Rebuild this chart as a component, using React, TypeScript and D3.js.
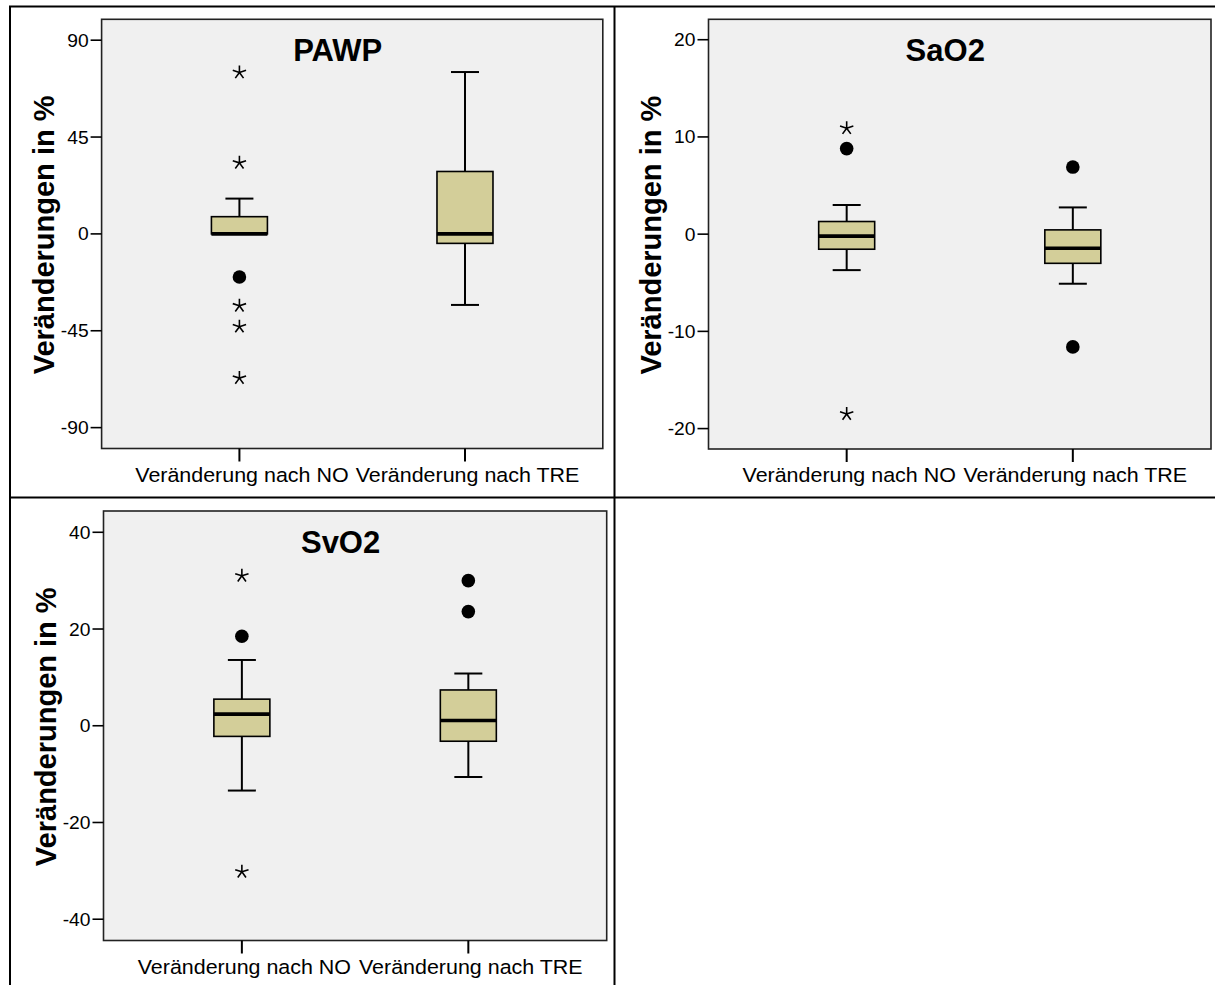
import React from "react";
import * as d3 from "d3";

// ---- data ----
const categories = ["Veränderung nach NO", "Veränderung nach TRE"];
const yAxisTitle = "Veränderungen in %";

const pawpTitle = "PAWP";
const pawpDomain = [-99.7, 99.7];
const pawpTicks = [-90, -45, 0, 45, 90];
const pawpWhiskerLow = [0, -33];
const pawpQ1 = [0, -4.4];
const pawpMedian = [0, 0];
const pawpQ3 = [8, 29];
const pawpWhiskerHigh = [16.4, 75.2];
const pawpOutliers = [{ cat: 0, v: -20 }];
const pawpExtremes = [
  { cat: 0, v: 75 },
  { cat: 0, v: 33 },
  { cat: 0, v: -33.4 },
  { cat: 0, v: -43.1 },
  { cat: 0, v: -67 },
];

const saoTitle = "SaO2";
const saoDomain = [-22.1, 22.1];
const saoTicks = [-20, -10, 0, 10, 20];
const saoWhiskerLow = [-3.7, -5.1];
const saoQ1 = [-1.55, -3.0];
const saoMedian = [-0.2, -1.45];
const saoQ3 = [1.3, 0.44];
const saoWhiskerHigh = [3.0, 2.75];
const saoOutliers = [
  { cat: 0, v: 8.8 },
  { cat: 1, v: 6.9 },
  { cat: 1, v: -11.6 },
];
const saoExtremes = [
  { cat: 0, v: 10.9 },
  { cat: 0, v: -18.5 },
];

const svoTitle = "SvO2";
const svoDomain = [-44.4, 44.4];
const svoTicks = [-40, -20, 0, 20, 40];
const svoWhiskerLow = [-13.4, -10.6];
const svoQ1 = [-2.2, -3.2];
const svoMedian = [2.4, 1.1];
const svoQ3 = [5.5, 7.4];
const svoWhiskerHigh = [13.6, 10.8];
const svoOutliers = [
  { cat: 0, v: 18.5 },
  { cat: 1, v: 30.0 },
  { cat: 1, v: 23.6 },
];
const svoExtremes = [
  { cat: 0, v: 31 },
  { cat: 0, v: -30.2 },
];

const panels = [
  {
    title: pawpTitle, domain: pawpDomain, ticks: pawpTicks,
    wl: pawpWhiskerLow, q1: pawpQ1, med: pawpMedian, q3: pawpQ3, wh: pawpWhiskerHigh,
    outliers: pawpOutliers, extremes: pawpExtremes,
    box: { x0: 101.6, x1: 602.8, y0: 19.3, y1: 448.5 },
  },
  {
    title: saoTitle, domain: saoDomain, ticks: saoTicks,
    wl: saoWhiskerLow, q1: saoQ1, med: saoMedian, q3: saoQ3, wh: saoWhiskerHigh,
    outliers: saoOutliers, extremes: saoExtremes,
    box: { x0: 708.5, x1: 1211, y0: 19.3, y1: 449 },
  },
  {
    title: svoTitle, domain: svoDomain, ticks: svoTicks,
    wl: svoWhiskerLow, q1: svoQ1, med: svoMedian, q3: svoQ3, wh: svoWhiskerHigh,
    outliers: svoOutliers, extremes: svoExtremes,
    box: { x0: 103.5, x1: 606.7, y0: 511, y1: 940.5 },
  },
];

const FONT = "'Liberation Sans', Arial, Helvetica, sans-serif";
const BOX_FILL = "#d3ce99";
const PLOT_BG = "#f0f0f0";

function starPath(cx: number, cy: number, r: number) {
  const p = d3.path();
  for (let i = 0; i < 5; i++) {
    const a = (-90 + i * 72) * (Math.PI / 180);
    p.moveTo(cx, cy);
    p.lineTo(cx + r * Math.cos(a), cy + r * Math.sin(a));
  }
  return p.toString();
}

function Panel({ p }: { p: any }) {
  const { x0, x1, y0, y1 } = p.box;
  const y = d3.scaleLinear().domain(p.domain).range([y1, y0]);
  const x = d3.scalePoint<number>().domain([0, 1]).range([x0, x1]).padding(0.611);
  const bw = 56;
  const cw = 28;
  const cy = (y0 + y1) / 2;
  return (
    <g>
      <rect x={x0} y={y0} width={x1 - x0} height={y1 - y0} fill={PLOT_BG} stroke="#222" strokeWidth={1.6} />
      {/* y ticks */}
      {p.ticks.map((t: number) => (
        <g key={t}>
          <line x1={x0 - 11} x2={x0} y1={y(t)} y2={y(t)} stroke="#000" strokeWidth={1.6} />
          <text
            transform={`translate(${x0 - 13},${y(t) + 6.5}) scale(1.1,1)`}
            textAnchor="end"
            fontFamily={FONT}
            fontSize={17.5}
            fill="#000"
          >
            {t}
          </text>
        </g>
      ))}
      {/* y title */}
      <text
        transform={`translate(${x0 - 48},${cy + 1}) rotate(-90)`}
        textAnchor="middle"
        fontFamily={FONT}
        fontWeight="bold"
        fontSize={29}
        fill="#000"
      >
        {yAxisTitle}
      </text>
      {/* x ticks + labels */}
      {categories.map((c, i) => (
        <g key={c}>
          <line x1={x(i)} x2={x(i)} y1={y1} y2={y1 + 13} stroke="#000" strokeWidth={2} />
          <text
            transform={`translate(${x(i)! + 2.5},${y1 + 33}) scale(1.1,1)`}
            textAnchor="middle"
            fontFamily={FONT}
            fontSize={19.5}
            fill="#000"
          >
            {c}
          </text>
        </g>
      ))}
      {/* title */}
      <text
        x={(x0 + x1) / 2 - 14.5}
        y={y0 + 42}
        textAnchor="middle"
        fontFamily={FONT}
        fontWeight="bold"
        fontSize={31}
        fill="#000"
      >
        {p.title}
      </text>
      {/* boxes */}
      {categories.map((c, i) => {
        const cx = x(i)!;
        return (
          <g key={"b" + i}>
            <line x1={cx} x2={cx} y1={y(p.wh[i])} y2={y(p.q3[i])} stroke="#000" strokeWidth={2} />
            <line x1={cx} x2={cx} y1={y(p.q1[i])} y2={y(p.wl[i])} stroke="#000" strokeWidth={2} />
            <line x1={cx - cw / 2} x2={cx + cw / 2} y1={y(p.wh[i])} y2={y(p.wh[i])} stroke="#000" strokeWidth={2} />
            <line x1={cx - cw / 2} x2={cx + cw / 2} y1={y(p.wl[i])} y2={y(p.wl[i])} stroke="#000" strokeWidth={2} />
            <rect
              x={cx - bw / 2}
              y={y(p.q3[i])}
              width={bw}
              height={Math.max(0, y(p.q1[i]) - y(p.q3[i]))}
              fill={BOX_FILL}
              stroke="#000"
              strokeWidth={1.6}
            />
            <line x1={cx - bw / 2} x2={cx + bw / 2} y1={y(p.med[i])} y2={y(p.med[i])} stroke="#000" strokeWidth={3.6} />
          </g>
        );
      })}
      {p.outliers.map((o: any, k: number) => (
        <circle key={"o" + k} cx={x(o.cat)} cy={y(o.v)} r={6.8} fill="#000" />
      ))}
      {p.extremes.map((o: any, k: number) => (
        <path key={"e" + k} d={starPath(x(o.cat)!, y(o.v), 7)} stroke="#000" strokeWidth={1.6} fill="none" />
      ))}
    </g>
  );
}

export default function App() {
  return (
    <svg
      width={1215}
      height={985}
      style={{ position: "absolute", left: 0, top: 0, background: "#fff" }}
    >
      <rect x={0} y={0} width={1215} height={985} fill="#fff" />
      {/* frame lines */}
      <line x1={9} x2={1215} y1={6.5} y2={6.5} stroke="#000" strokeWidth={2} />
      <line x1={10} x2={10} y1={6} y2={985} stroke="#000" strokeWidth={2} />
      <line x1={614.5} x2={614.5} y1={6} y2={985} stroke="#000" strokeWidth={2} />
      <line x1={9} x2={1215} y1={497.5} y2={497.5} stroke="#000" strokeWidth={2} />
      {panels.map((p) => (
        <Panel key={p.title} p={p} />
      ))}
    </svg>
  );
}
